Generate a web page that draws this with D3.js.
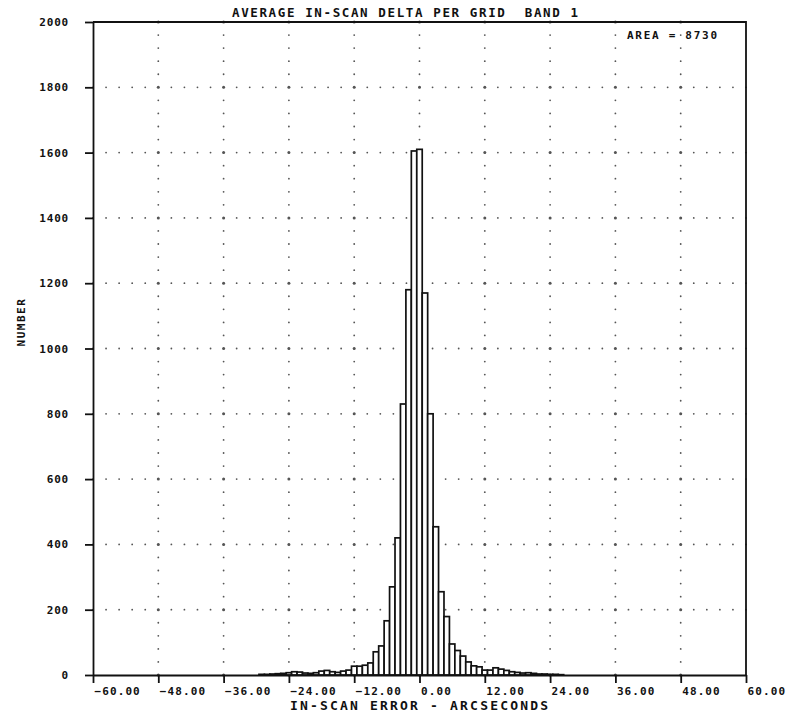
<!DOCTYPE html>
<html>
<head>
<meta charset="utf-8">
<script src="https://cdn.jsdelivr.net/npm/d3@7"></script>
<style>
  body { margin: 0; background: #fff; }
  text { font-family: "DejaVu Sans Mono", monospace; font-weight: bold; fill: #111; }
</style>
</head>
<body>
<script>
// histogram bins: centre of each 1 arcsec bin, and its count
const binCenters = d3.range(-30, 27);
const counts = [
  0, 2, 2, 3, 4, 5, 7, 10, 9, 6,        // -30 .. -21
  5, 7, 12, 14, 10, 8, 12, 15,          // -20 .. -13
  27, 27, 30, 37, 71, 89, 166, 270, 420, // -12 .. -4
  830, 1180, 1605, 1610, 1170, 800, 454, // -3 .. 3
  255, 179, 95, 75, 58, 40, 28, 25, 15, 15, // 4 .. 13
  22, 18, 14, 10, 8, 6, 7, 5, 3, 3, 2, 2, 1 // 14 .. 26
];
const xTicks = [-60, -48, -36, -24, -12, 0, 12, 24, 36, 48, 60];
const yTicks = [0, 200, 400, 600, 800, 1000, 1200, 1400, 1600, 1800, 2000];
const titleText = 'AVERAGE IN-SCAN DELTA PER GRID  BAND 1';
const areaText = 'AREA = 8730';
const xTitle = 'IN-SCAN ERROR - ARCSECONDS';
const yTitle = 'NUMBER';

const W = 788;
const H = 717;
const margin = {
  top: 22, right: 42, bottom: 42, left: 93,
};

const x = d3.scaleLinear().domain([-60, 60]).range([margin.left, W - margin.right]);
const y = d3.scaleLinear().domain([0, 2000]).range([H - margin.bottom, margin.top]);

const svg = d3.select('body').append('svg')
  .attr('width', W)
  .attr('height', H);

// dotted grid
const dots = svg.append('g').attr('fill', '#555');
yTicks.slice(1, -1).forEach((v) => {
  d3.range(-60, 60.01, 2.4).forEach((u) => {
    dots.append('circle').attr('cx', x(u)).attr('cy', y(v)).attr('r', 0.9);
  });
});
xTicks.slice(1, -1).forEach((u) => {
  d3.range(0, 2000.1, 40).forEach((v) => {
    const big = v % 200 === 0;
    dots.append('circle').attr('cx', x(u)).attr('cy', y(v)).attr('r', big ? 1.5 : 0.9);
  });
});

// bars
const data = binCenters.map((c, i) => ({ c, v: counts[i] })).filter(d => d.v > 0);
svg.append('g')
  .selectAll('rect')
  .data(data)
  .join('rect')
  .attr('x', d => x(d.c - 0.5))
  .attr('width', d => x(d.c + 0.5) - x(d.c - 0.5))
  .attr('y', d => y(d.v))
  .attr('height', d => y(0) - y(d.v))
  .attr('fill', '#fff')
  .attr('stroke', '#111')
  .attr('stroke-width', 1.7);

// frame top and right
svg.append('path')
  .attr('d', `M${x(-60)},${y(2000)}H${x(60)}V${y(0)}`)
  .attr('fill', 'none')
  .attr('stroke', '#111')
  .attr('stroke-width', 1.8);

// x axis
const gx = svg.append('g')
  .attr('transform', `translate(0,${y(0)})`)
  .call(d3.axisBottom(x).tickValues(xTicks).tickSize(8).tickSizeOuter(0)
    .tickFormat(d => d3.format('.2f')(d)));
gx.select('.domain').attr('stroke', '#111').attr('stroke-width', 1.8);
gx.selectAll('.tick line').attr('stroke', '#111').attr('stroke-width', 1.8);
gx.selectAll('.tick text')
  .attr('text-anchor', 'start')
  .attr('x', 1)
  .attr('y', 12)
  .style('font-size', '11px')
  .style('letter-spacing', '1.1px')
  .attr('font-family', null);

// y axis
const gy = svg.append('g')
  .attr('transform', `translate(${x(-60)},0)`)
  .call(d3.axisLeft(y).tickValues(yTicks).tickSize(8).tickSizeOuter(0)
    .tickFormat(d3.format('d')));
gy.select('.domain').attr('stroke', '#111').attr('stroke-width', 1.8);
gy.selectAll('.tick line').attr('stroke', '#111').attr('stroke-width', 1.8);
gy.selectAll('.tick text')
  .attr('x', -24)
  .style('font-size', '11px')
  .style('letter-spacing', '0.8px')
  .attr('font-family', null);

// titles
svg.append('text')
  .attr('x', 232)
  .attr('y', 17)
  .attr('textLength', 346)
  .attr('lengthAdjust', 'spacing')
  .style('font-size', '12.5px')
  .style('white-space', 'pre')
  .text(titleText);

svg.append('text')
  .attr('x', 627)
  .attr('y', 39)
  .attr('textLength', 90)
  .attr('lengthAdjust', 'spacing')
  .style('font-size', '11px')
  .text(areaText);

svg.append('text')
  .attr('x', 290)
  .attr('y', 710)
  .attr('textLength', 258)
  .attr('lengthAdjust', 'spacing')
  .style('font-size', '13px')
  .text(xTitle);

svg.append('text')
  .attr('transform', 'translate(25,322) rotate(-90)')
  .attr('text-anchor', 'middle')
  .style('font-size', '11px')
  .style('letter-spacing', '1.5px')
  .text(yTitle);
</script>
</body>
</html>
